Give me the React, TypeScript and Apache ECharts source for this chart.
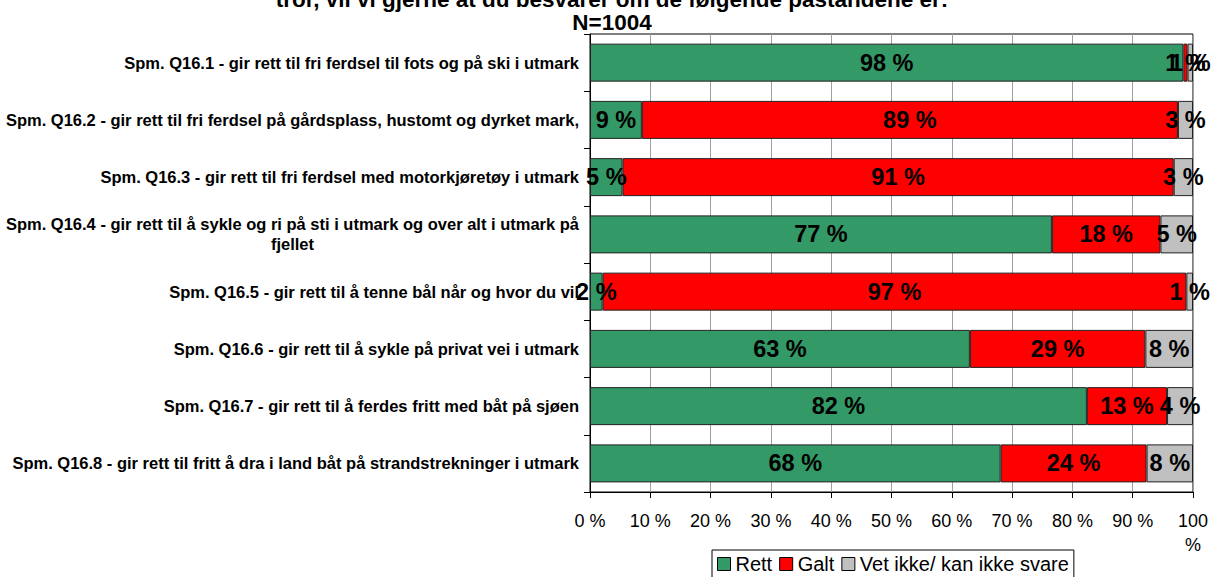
import React, { useEffect, useRef } from "react";
import * as echarts from "echarts";

const categories = [
  "Spm. Q16.1 - gir rett til fri ferdsel til fots og på ski i utmark",
  "Spm. Q16.2 - gir rett til fri ferdsel på gårdsplass, hustomt og dyrket mark,",
  "Spm. Q16.3 - gir rett til fri ferdsel med motorkjøretøy i utmark",
  "Spm. Q16.4 - gir rett til å sykle og ri på sti i utmark og over alt i utmark på\nfjellet",
  "Spm. Q16.5 - gir rett til å tenne bål når og hvor du vil",
  "Spm. Q16.6 - gir rett til å sykle på privat vei i utmark",
  "Spm. Q16.7 - gir rett til å ferdes fritt med båt på sjøen",
  "Spm. Q16.8 - gir rett til fritt å dra i land båt på strandstrekninger i utmark",
];
const rett = [98.4, 8.6, 5.4, 76.6, 2.1, 63.0, 82.4, 68.1];
const galt = [0.7, 88.9, 91.4, 18.0, 96.8, 29.1, 13.3, 24.2];
const vet = [0.9, 2.5, 3.2, 5.4, 1.1, 7.9, 4.3, 7.7];
const seriesNames = ["Rett", "Galt", "Vet ikke/ kan ikke svare"];
const seriesColors = ["#339966", "#FF0000", "#C0C0C0"];
const xTickValues = [0, 10, 20, 30, 40, 50, 60, 70, 80, 90, 100];
const titleLines = [
  "tror, vil vi gjerne at du besvarer om de følgende påstandene er:",
  "N=1004",
];

function fontAvailable(name: string): boolean {
  const ctx = document.createElement("canvas").getContext("2d");
  if (!ctx) return false;
  const s = "abcdefghijklmnopqrstuvwxyz0123456789 %";
  ctx.font = "40px monospace";
  const w1 = ctx.measureText(s).width;
  ctx.font = `40px "${name}", monospace`;
  const w2 = ctx.measureText(s).width;
  ctx.font = "40px serif";
  const w3 = ctx.measureText(s).width;
  ctx.font = `40px "${name}", serif`;
  const w4 = ctx.measureText(s).width;
  return w1 !== w2 || w3 !== w4;
}

function fitSize(text: string, family: string, weight: string, target: number, lo: number, hi: number): number {
  const ctx = document.createElement("canvas").getContext("2d");
  if (!ctx) return lo;
  ctx.font = `${weight} 100px ${family}`;
  const w = ctx.measureText(text).width;
  if (!w) return lo;
  const size = (target / w) * 100;
  return Math.max(lo, Math.min(hi, Math.round(size * 2) / 2));
}

export default function App() {
  const ref = useRef<HTMLDivElement>(null);

  useEffect(() => {
    document.body.style.margin = "0";
    if (!ref.current) return;
    const narrow = fontAvailable("Liberation Sans Narrow");
    const regFamily = "'Liberation Sans', Arial, sans-serif";
    const narrowFamily = narrow ? "'Liberation Sans Narrow', 'Liberation Sans', Arial, sans-serif" : regFamily;

    const yLabelSize = fitSize(categories[0], narrowFamily, "bold", 453, 11, 18);
    const barLabelSize = fitSize("98 %", narrowFamily, "bold", 53, 18, 28);
    const titleSize = fitSize(titleLines[1], regFamily, "bold", 79, 18, 24);

    const chart = echarts.init(ref.current, undefined, { renderer: "svg" });

    const values = [rett, galt, vet];
    const option: any = {
      animation: false,
      backgroundColor: "#fff",
      graphic: [
        {
          type: "text",
          x: 612,
          y: -12.5,
          style: {
            text: titleLines.join("\n"),
            align: "center",
            textAlign: "center",
            verticalAlign: "top",
            textVerticalAlign: "top",
            fontSize: titleSize,
            fontWeight: "bold",
            fontFamily: regFamily,
            lineHeight: 23,
            fill: "#000",
          },
        },
      ],
      legend: {
        data: seriesNames,
        left: 712,
        top: 550,
        orient: "horizontal",
        icon: "rect",
        itemWidth: 13,
        itemHeight: 13,
        itemGap: 7,
        selectedMode: false,
        borderColor: "#000",
        borderWidth: 1,
        padding: [4, 5, 4, 5],
        itemStyle: { borderColor: "#000", borderWidth: 1 },
        textStyle: { fontSize: 20, color: "#000", fontFamily: regFamily },
      },
      grid: {
        left: 590,
        right: 19,
        top: 34,
        bottom: 85,
        show: true,
        borderColor: "#000",
        borderWidth: 1,
        backgroundColor: "transparent",
      },
      xAxis: {
        type: "value",
        min: 0,
        max: 100,
        interval: 10,
        axisLine: { show: true, lineStyle: { color: "#000", width: 1 } },
        axisTick: { show: true, inside: false, length: 6, lineStyle: { color: "#000" } },
        splitLine: { show: true, lineStyle: { color: "#a0a0a0", width: 1 } },
        axisLabel: {
          margin: 17,
          fontSize: 18,
          lineHeight: 24,
          color: "#000",
          fontFamily: regFamily,
          showMinLabel: true,
          showMaxLabel: true,
          formatter: (v: number) => (v === xTickValues[xTickValues.length - 1] ? `${v}\n%` : `${v} %`),
        },
      },
      yAxis: {
        type: "category",
        inverse: true,
        data: categories,
        axisLine: { show: true, lineStyle: { color: "#000", width: 1 } },
        axisTick: { show: true, inside: false, length: 6, lineStyle: { color: "#000" } },
        splitLine: { show: false },
        axisLabel: {
          margin: 11,
          fontSize: yLabelSize,
          fontWeight: "bold",
          color: "#000",
          fontFamily: narrowFamily,
          interval: 0,
          lineHeight: 20,
          formatter: (v: string) =>
            v.includes("\n") ? v.split("\n").map((l) => `{c|${l}}`).join("\n") : v,
          rich: {
            c: {
              fontSize: yLabelSize,
              fontWeight: "bold",
              color: "#000",
              fontFamily: narrowFamily,
              align: "center",
              lineHeight: 20,
            },
          },
        },
      },
      series: seriesNames.map((name, i) => ({
        name,
        type: "bar",
        stack: "total",
        data: values[i],
        barWidth: 38,
        itemStyle: { color: seriesColors[i], borderColor: "#222", borderWidth: 1 },
        label: {
          show: true,
          position: "inside",
          formatter: (p: any) => `${Math.round(p.value)} %`,
          fontSize: barLabelSize,
          fontWeight: "bold",
          color: "#000",
          fontFamily: narrowFamily,
          textBorderWidth: 0,
        },
      })),
    };

    chart.setOption(option);
    return () => {
      chart.dispose();
    };
  }, []);

  return <div ref={ref} style={{ width: 1212, height: 577 }} />;
}
